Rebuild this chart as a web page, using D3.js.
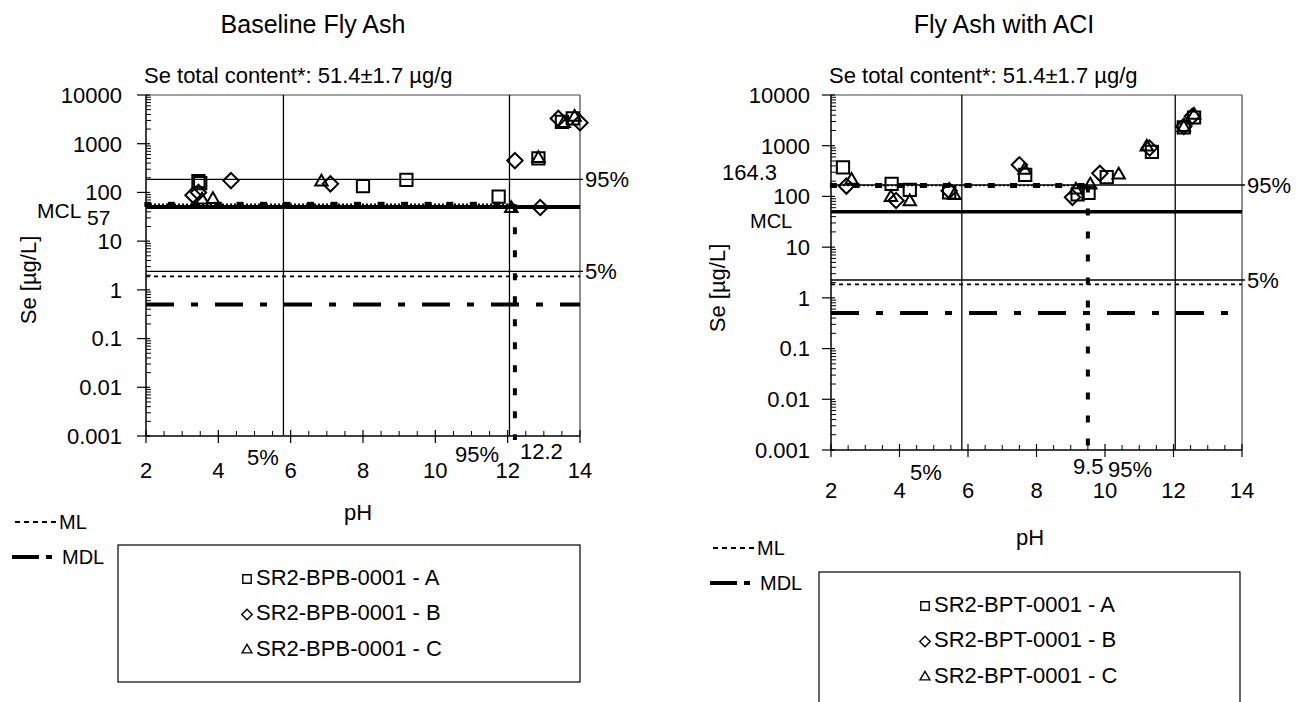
<!DOCTYPE html>
<html><head><meta charset="utf-8">
<script src="https://cdn.jsdelivr.net/npm/d3@7"></script>
<style>body{margin:0;background:#fff;} svg{font-family:Arial,"Liberation Sans",sans-serif;}</style>
</head><body><svg id="c" width="1296" height="702"></svg>
<script>
// ---------- shared axis data ----------
const yTicks = [0.001, 0.01, 0.1, 1, 10, 100, 1000, 10000];
const yTickLabels = ["0.001", "0.01", "0.1", "1", "10", "100", "1000", "10000"];
const xTicks = [2, 4, 6, 8, 10, 12, 14];
const seriesNames = ["A", "B", "C"];
const seriesSymbols = ["square", "diamond", "triangle"];

// ---------- Baseline Fly Ash ----------
const baseA = [[3.45, 170], [3.5, 155], [8.0, 135], [9.2, 180], [11.75, 82], [12.85, 500], [13.5, 2800], [13.8, 3300]];
const baseB = [[3.3, 88], [3.45, 100], [4.35, 175], [7.1, 150], [12.2, 450], [12.9, 49], [13.4, 3300], [14.0, 2700]];
const baseC = [[3.55, 70], [3.85, 72], [6.85, 165], [12.1, 47], [12.85, 500], [13.55, 2600], [13.85, 3500]];
const baseLevels = {mcl: 50, cross: 57, p95: 185, p5: 2.4, ml: 1.9, mdl: 0.5};
const basePH = {p5: 5.8, p95: 12.05, cross: 12.2};
const baseCrossMarkers = [2.05, 2.7, 3.35, 4.0, 4.6, 5.25, 5.9, 6.55, 7.2, 7.85, 8.5, 9.15, 9.8, 10.4, 11.05, 11.7];

// ---------- Fly Ash with ACI ----------
const aciA = [[2.35, 375], [3.77, 176], [4.3, 134], [5.45, 120], [7.67, 265], [9.2, 110], [9.52, 118], [10.05, 240], [11.37, 760], [12.3, 2300], [12.6, 3600]];
const aciB = [[2.45, 160], [3.9, 83], [5.45, 130], [7.5, 420], [9.05, 96], [9.85, 285], [11.3, 900], [12.3, 2400], [12.55, 3800]];
const aciC = [[2.6, 210], [3.75, 96], [4.3, 79], [5.6, 105], [7.65, 330], [9.15, 134], [9.57, 168], [10.4, 265], [11.22, 950], [12.3, 2300], [12.6, 4000]];
const aciLevels = {mcl: 50, cross: 164.3, p95: 168, p5: 2.25, ml: 1.85, mdl: 0.5};
const aciPH = {p5: 5.82, p95: 12.05, cross: 9.5};
const aciCrossMarkers = [2.07, 2.73, 3.39, 4.05, 4.7, 5.37, 6.0, 6.68, 7.33, 8.0, 8.65, 9.3];

const svg = d3.select("#c");
const FS = 22;

function symbolPath(type, size) {
  const t = type === "square" ? d3.symbolSquare : type === "diamond" ? d3.symbolDiamond2 : d3.symbolTriangle2;
  return d3.symbol().type(t).size(size)();
}

function panel(cfg) {
  const g = svg.append("g");
  const x = d3.scaleLinear().domain([2, 14]).range([cfg.x0, cfg.x1]);
  const y = d3.scaleLog().domain([0.001, 10000]).range([cfg.y1, cfg.y0]);

  // titles
  g.append("text").attr("x", cfg.titleX).attr("y", 33).attr("text-anchor", "middle")
    .attr("font-size", 25).text(cfg.title);
  g.append("text").attr("x", cfg.x0 - 2).attr("y", 83).attr("font-size", 22)
    .text("Se total content*: 51.4\u00b11.7 \u00b5g/g");

  // frame (top & right)
  g.append("line").attr("x1", cfg.x0).attr("x2", cfg.x1).attr("y1", cfg.y0).attr("y2", cfg.y0)
    .attr("stroke", "#444").attr("stroke-width", 1.2);
  g.append("line").attr("x1", cfg.x1).attr("x2", cfg.x1).attr("y1", cfg.y0).attr("y2", cfg.y1)
    .attr("stroke", "#444").attr("stroke-width", 1.2);

  // y minor ticks
  const minor = [];
  yTicks.slice(0, -1).forEach(d => { for (let k = 2; k <= 9; k++) minor.push(d * k); });
  g.selectAll(".ym").data(minor).enter().append("line")
    .attr("x1", cfg.x0).attr("x2", cfg.x0 + 5).attr("y1", d => y(d)).attr("y2", d => y(d))
    .attr("stroke", "#000").attr("stroke-width", 1);
  // y major ticks + labels
  g.selectAll(".yt").data(yTicks).enter().append("line")
    .attr("x1", cfg.x0 - 9).attr("x2", cfg.x0 + 4).attr("y1", d => y(d)).attr("y2", d => y(d))
    .attr("stroke", "#000").attr("stroke-width", 1.2);
  g.selectAll(".yl").data(yTicks).enter().append("text")
    .attr("x", cfg.x0 - cfg.yLabOff).attr("y", d => y(d)).attr("dy", "0.36em")
    .attr("text-anchor", "end").attr("font-size", FS).text((d, i) => yTickLabels[i]);

  // x minor ticks
  const xm = d3.range(2.5, 14, 0.5).filter(v => v % 2 !== 0);
  g.selectAll(".xm").data(xm).enter().append("line")
    .attr("x1", d => x(d)).attr("x2", d => x(d)).attr("y1", cfg.y1).attr("y2", cfg.y1 - 5)
    .attr("stroke", "#000").attr("stroke-width", 1);
  g.selectAll(".xt").data(xTicks).enter().append("line")
    .attr("x1", d => x(d)).attr("x2", d => x(d)).attr("y1", cfg.y1 - 6).attr("y2", cfg.y1 + 7)
    .attr("stroke", "#000").attr("stroke-width", 1.2);
  g.selectAll(".xl").data(xTicks).enter().append("text")
    .attr("x", d => x(d)).attr("y", cfg.y1 + cfg.xLabOff).attr("text-anchor", "middle")
    .attr("font-size", FS).text(d => d);

  // axes lines
  g.append("line").attr("x1", cfg.x0).attr("x2", cfg.x0).attr("y1", cfg.y0).attr("y2", cfg.y1)
    .attr("stroke", "#000").attr("stroke-width", 1.5);
  g.append("line").attr("x1", cfg.x0).attr("x2", cfg.x1).attr("y1", cfg.y1).attr("y2", cfg.y1)
    .attr("stroke", "#000").attr("stroke-width", 1.5);

  const L = cfg.levels, P = cfg.ph;
  // horizontal percentiles
  [["p95", "95%"], ["p5", "5%"]].forEach(([k, lab]) => {
    g.append("line").attr("x1", cfg.x0).attr("x2", cfg.x1 + 3).attr("y1", y(L[k])).attr("y2", y(L[k]))
      .attr("stroke", "#000").attr("stroke-width", 1.3);
    g.append("text").attr("x", cfg.x1 + 5).attr("y", y(L[k])).attr("dy", "0.36em")
      .attr("font-size", FS).text(lab);
  });
  // vertical percentiles
  [P.p5, P.p95].forEach(v => {
    g.append("line").attr("x1", x(v)).attr("x2", x(v)).attr("y1", cfg.y0).attr("y2", cfg.y1)
      .attr("stroke", "#000").attr("stroke-width", 1.3);
  });
  // ML
  g.append("line").attr("x1", cfg.x0).attr("x2", cfg.x1).attr("y1", y(L.ml)).attr("y2", y(L.ml))
    .attr("stroke", "#000").attr("stroke-width", 1.8).attr("stroke-dasharray", "4,4");
  // MDL
  g.append("line").attr("x1", cfg.x0).attr("x2", cfg.x1).attr("y1", y(L.mdl)).attr("y2", y(L.mdl))
    .attr("stroke", "#000").attr("stroke-width", 4).attr("stroke-dasharray", "28,17,7,17");
  // MCL
  g.append("line").attr("x1", cfg.x0).attr("x2", cfg.x1).attr("y1", y(L.mcl)).attr("y2", y(L.mcl))
    .attr("stroke", "#000").attr("stroke-width", cfg.mclW);
  // crossing level line (dotted + square markers)
  g.append("line").attr("x1", cfg.x0).attr("x2", x(P.cross)).attr("y1", y(L.cross)).attr("y2", y(L.cross))
    .attr("stroke", "#000").attr("stroke-width", 1.5).attr("stroke-dasharray", "2,2");
  g.selectAll(".cm").data(cfg.crossMarkers).enter().append("rect")
    .attr("x", d => x(d) - 3.5).attr("y", y(L.cross) - 2.5).attr("width", 7).attr("height", 5).attr("fill", "#000");
  // vertical crossing pH line
  g.append("line").attr("x1", x(P.cross)).attr("x2", x(P.cross)).attr("y1", y(L.cross)).attr("y2", cfg.y1 + cfg.crossExt)
    .attr("stroke", "#000").attr("stroke-width", 4).attr("stroke-dasharray", "7,16");

  // annotations
  cfg.annots.forEach(a => {
    g.append("text").attr("x", a.x).attr("y", a.y).attr("text-anchor", a.anchor || "start")
      .attr("font-size", a.fs || FS).text(a.t);
  });

  // y-axis title
  g.append("text").attr("transform", `translate(${cfg.yTitleX},${cfg.yTitleY}) rotate(-90)`)
    .attr("text-anchor", "middle").attr("font-size", FS).text("Se [\u00b5g/L]");
  // x title
  g.append("text").attr("x", cfg.pHX).attr("y", cfg.pHY).attr("text-anchor", "middle")
    .attr("font-size", FS).text("pH");

  // data points
  cfg.series.forEach((s, i) => {
    g.selectAll(".p" + i).data(s).enter().append("path")
      .attr("transform", d => `translate(${x(d[0])},${y(d[1])})`)
      .attr("d", symbolPath(seriesSymbols[i], i === 2 ? 110 : 150))
      .attr("fill", "none").attr("stroke", "#000").attr("stroke-width", 2);
  });

  // ML / MDL key
  const k = cfg.key;
  g.append("line").attr("x1", k.x).attr("x2", k.x + 42).attr("y1", k.y).attr("y2", k.y)
    .attr("stroke", "#000").attr("stroke-width", 2).attr("stroke-dasharray", "5,4");
  g.append("text").attr("x", k.x + 44).attr("y", k.y).attr("dy", "0.36em").attr("font-size", 20).text("ML");
  g.append("line").attr("x1", k.x - 3).attr("x2", k.x + 38).attr("y1", k.y + 35).attr("y2", k.y + 35)
    .attr("stroke", "#000").attr("stroke-width", 4).attr("stroke-dasharray", "27,7,6,40");
  g.append("text").attr("x", k.x + 47).attr("y", k.y + 35).attr("dy", "0.36em").attr("font-size", 20).text("MDL");

  // legend box
  const b = cfg.box;
  g.append("rect").attr("x", b.x).attr("y", b.y).attr("width", b.w).attr("height", b.h)
    .attr("fill", "none").attr("stroke", "#000").attr("stroke-width", 1.2);
  seriesNames.forEach((n, i) => {
    const yy = b.y + 32 + i * 35.5;
    g.append("path").attr("transform", `translate(${b.symX},${yy + 2})`)
      .attr("d", symbolPath(seriesSymbols[i], 70)).attr("fill", "none").attr("stroke", "#000").attr("stroke-width", 1.4);
    g.append("text").attr("x", b.symX + 9).attr("y", yy).attr("dy", "0.36em").attr("font-size", FS)
      .text(cfg.sample + " - " + n);
  });
}

panel({
  title: "Baseline Fly Ash", titleX: 313, x0: 146, x1: 580, y0: 95, y1: 436,
  yLabOff: 24, xLabOff: 42, mclW: 4, levels: baseLevels, ph: basePH, crossMarkers: baseCrossMarkers, crossExt: 4,
  series: [baseA, baseB, baseC], sample: "SR2-BPB-0001",
  annots: [
    {t: "MCL", x: 37, y: 218, fs: 21}, {t: "57", x: 87, y: 225, fs: 21},
    {t: "5%", x: 247, y: 465}, {t: "95%", x: 455, y: 462}, {t: "12.2", x: 520, y: 459}
  ],
  yTitleX: 36, yTitleY: 280, pHX: 358, pHY: 520,
  key: {x: 15, y: 522}, box: {x: 118, y: 545, w: 462, h: 137, symX: 247}
});
panel({
  title: "Fly Ash with ACI", titleX: 1004, x0: 831, x1: 1242, y0: 95, y1: 450,
  yLabOff: 21, xLabOff: 48, mclW: 3.5, levels: aciLevels, ph: aciPH, crossMarkers: aciCrossMarkers, crossExt: 10,
  series: [aciA, aciB, aciC], sample: "SR2-BPT-0001",
  annots: [
    {t: "164.3", x: 722, y: 180}, {t: "MCL", x: 750, y: 228, fs: 20},
    {t: "5%", x: 910, y: 480}, {t: "9.5", x: 1073, y: 474}, {t: "95%", x: 1108, y: 477}
  ],
  yTitleX: 725, yTitleY: 288, pHX: 1030, pHY: 545,
  key: {x: 713, y: 548}, box: {x: 819, y: 572, w: 421, h: 140, symX: 925}
});
</script></body></html>
